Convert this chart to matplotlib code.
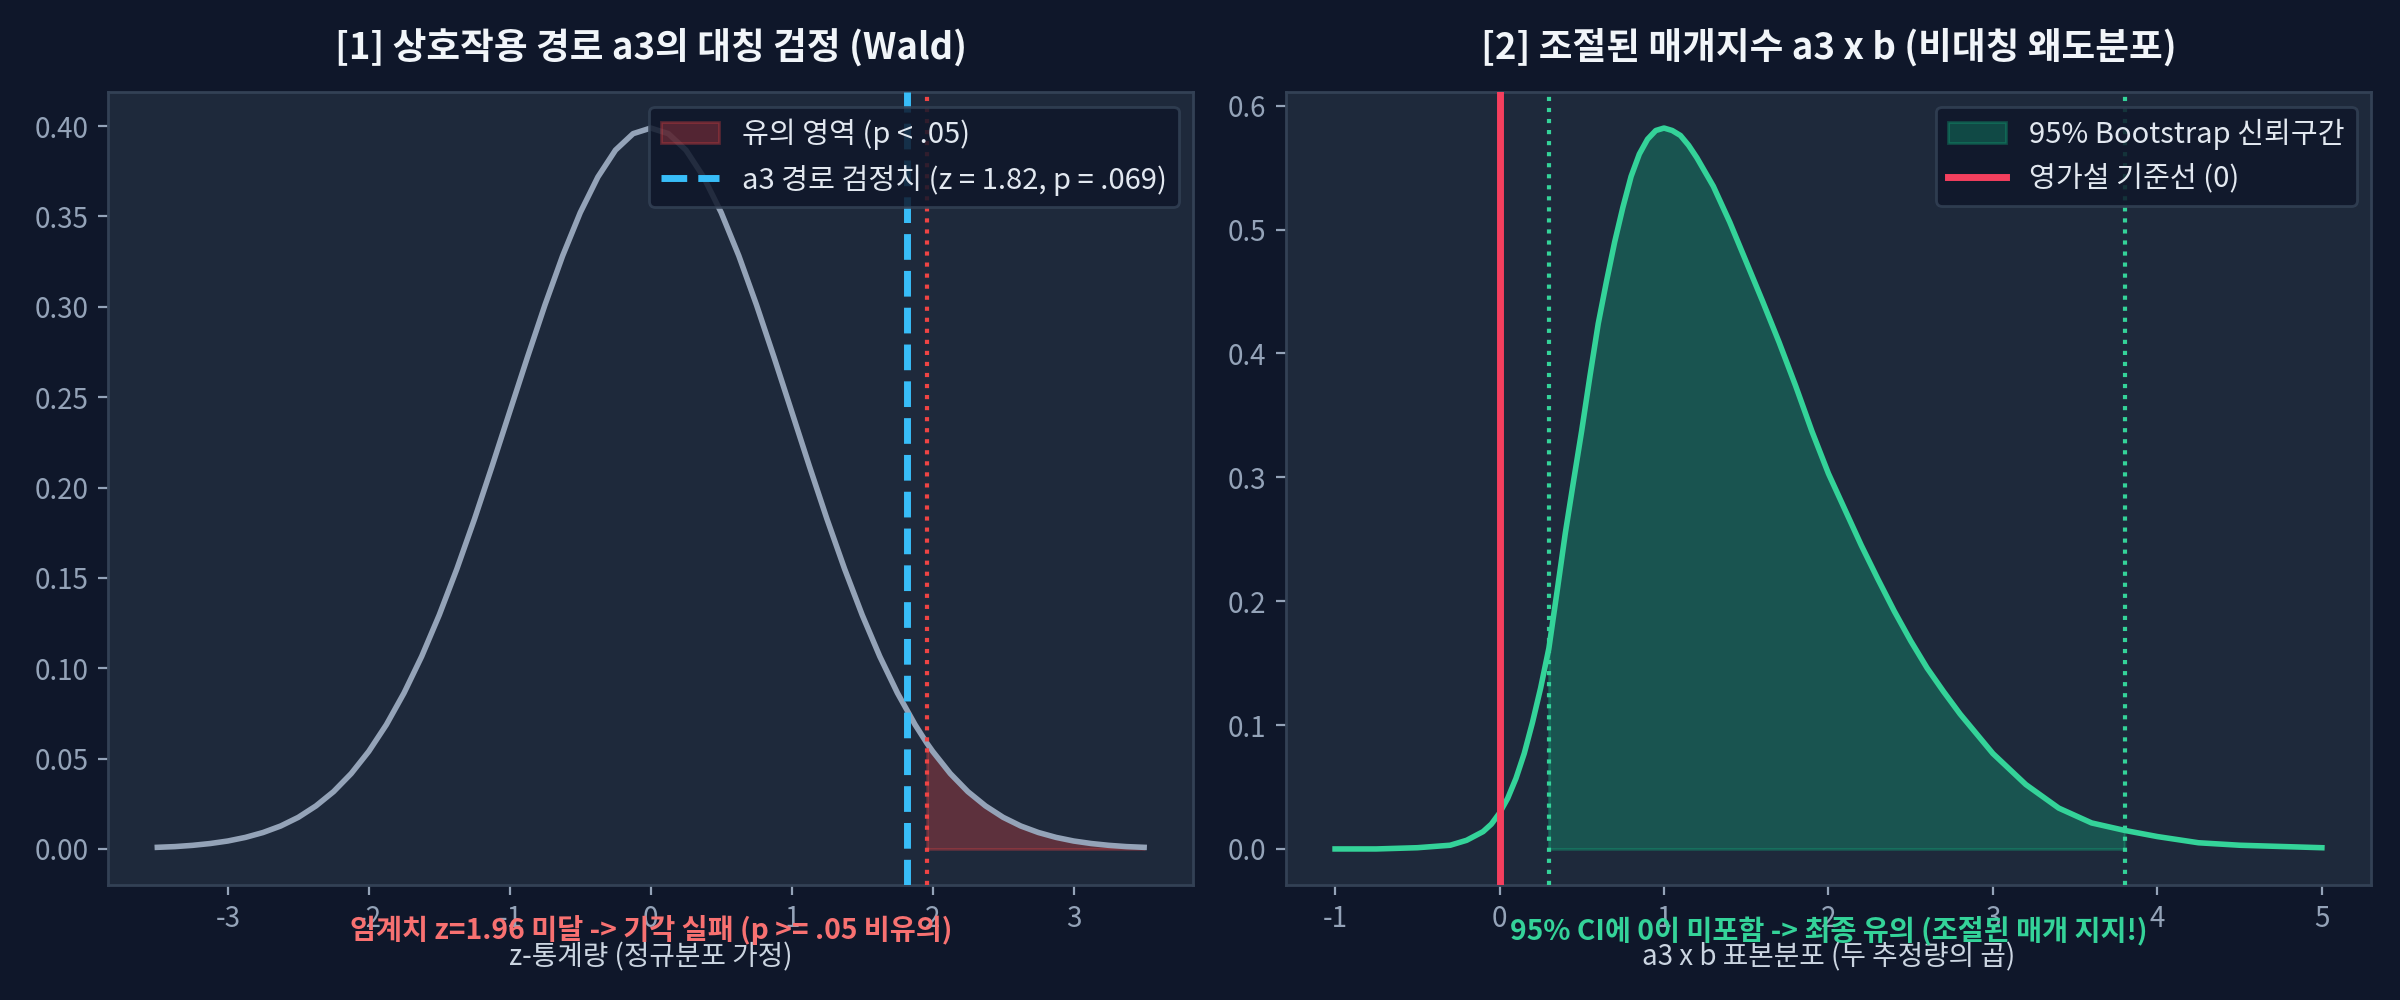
import matplotlib
matplotlib.use("Agg")
import matplotlib.pyplot as plt
import numpy as np

plt.rcParams['font.family'] = ['Noto Sans CJK KR', 'DejaVu Sans']
plt.rcParams['font.weight'] = 'light'
plt.rcParams['axes.unicode_minus'] = False

# ---------------- data ----------------
# Panel 1: z-statistic sampling distribution
z_x = [-3.5, -3.375, -3.25, -3.125, -3.0, -2.875, -2.75, -2.625, -2.5, -2.375,
       -2.25, -2.125, -2.0, -1.875, -1.75, -1.625, -1.5, -1.375, -1.25, -1.125,
       -1.0, -0.875, -0.75, -0.625, -0.5, -0.375, -0.25, -0.125, 0.0, 0.125,
       0.25, 0.375, 0.5, 0.625, 0.75, 0.875, 1.0, 1.125, 1.25, 1.375,
       1.5, 1.625, 1.75, 1.875, 1.96, 2.0, 2.125, 2.25, 2.375, 2.5,
       2.625, 2.75, 2.875, 3.0, 3.125, 3.25, 3.375, 3.5]
z_y = [0.0009, 0.0013, 0.0020, 0.0030, 0.0044, 0.0064, 0.0091, 0.0127, 0.0175, 0.0238,
       0.0317, 0.0417, 0.0540, 0.0688, 0.0863, 0.1065, 0.1295, 0.1550, 0.1826, 0.2119,
       0.2420, 0.2720, 0.3011, 0.3282, 0.3521, 0.3718, 0.3867, 0.3958, 0.3989, 0.3958,
       0.3867, 0.3718, 0.3521, 0.3282, 0.3011, 0.2720, 0.2420, 0.2119, 0.1826, 0.1550,
       0.1295, 0.1065, 0.0863, 0.0688, 0.0584, 0.0540, 0.0417, 0.0317, 0.0238, 0.0175,
       0.0127, 0.0091, 0.0064, 0.0044, 0.0030, 0.0020, 0.0013, 0.0009]
z_crit = 1.96
z_obs = 1.82

# Panel 2: a3 x b product distribution
ab_x = [-1.0, -0.75, -0.5, -0.4, -0.3, -0.2, -0.1, -0.05, 0.0, 0.05,
        0.1, 0.15, 0.2, 0.25, 0.3, 0.35, 0.4, 0.45, 0.5, 0.55,
        0.6, 0.65, 0.7, 0.75, 0.8, 0.85, 0.9, 0.95, 1.0, 1.05,
        1.1, 1.15, 1.2, 1.3, 1.4, 1.5, 1.6, 1.7, 1.8, 1.9,
        2.0, 2.1, 2.2, 2.3, 2.4, 2.5, 2.6, 2.7, 2.8, 2.9,
        3.0, 3.2, 3.4, 3.6, 3.8, 4.0, 4.25, 4.5, 4.75, 5.0]
ab_y = [0.000, 0.000, 0.001, 0.002, 0.003, 0.007, 0.014, 0.020, 0.029, 0.041,
        0.057, 0.077, 0.102, 0.130, 0.162, 0.208, 0.255, 0.297, 0.338, 0.382,
        0.424, 0.458, 0.490, 0.518, 0.543, 0.561, 0.573, 0.580, 0.582, 0.580,
        0.576, 0.568, 0.558, 0.535, 0.506, 0.474, 0.442, 0.409, 0.374, 0.337,
        0.303, 0.274, 0.245, 0.218, 0.192, 0.168, 0.146, 0.127, 0.109, 0.093,
        0.077, 0.052, 0.033, 0.021, 0.015, 0.010, 0.005, 0.003, 0.002, 0.001]
ci_low, ci_high = 0.30, 3.80
null_value = 0.0

titles = ["[1] 상호작용 경로 a3의 대칭 검정 (Wald)",
          "[2] 조절된 매개지수 a3 x b (비대칭 왜도분포)"]
xlabels = ["z-통계량 (정규분포 가정)", "a3 x b 표본분포 (두 추정량의 곱)"]
notes = ["임계치 z=1.96 미달 -> 기각 실패 (p >= .05 비유의)",
         "95% CI에 0이 미포함 -> 최종 유의 (조절된 매개 지지!)"]
leg1 = ["유의 영역 (p < .05)", "a3 경로 검정치 (z = 1.82, p = .069)"]
leg2 = ["95% Bootstrap 신뢰구간", "영가설 기준선 (0)"]

# ---------------- style ----------------
FIG_BG = '#0f172a'
AX_BG = '#1e293b'
SPINE = '#334155'
TICK = '#94a3b8'
TEXT = '#f1f5f9'
LABEL = '#cbd5e1'

fig, axes = plt.subplots(1, 2, figsize=(12, 5), dpi=200)
fig.patch.set_facecolor(FIG_BG)
fig.subplots_adjust(left=0.045, right=0.988, bottom=0.115, top=0.908, wspace=0.085)

for ax in axes:
    ax.set_facecolor(AX_BG)
    for s in ax.spines.values():
        s.set_color(SPINE)
        s.set_linewidth(1.0)
    ax.tick_params(colors=TICK, labelsize=10, length=3.5, width=0.8)

# ---- panel 1 ----
ax = axes[0]
zx = np.array(z_x)
zy = np.array(z_y)
ax.plot(zx, zy, color='#94a3b8', lw=2, zorder=3)
fill1 = ax.fill_between(zx, 0, zy, where=zx >= z_crit, color='#ef4444', alpha=0.3,
                        zorder=2, label=leg1[0])
ax.axvline(z_crit, color='#ef4444', lw=1.5, ls=':', zorder=4)
line1 = ax.axvline(z_obs, color='#38bdf8', lw=2.5, ls='--', zorder=4, label=leg1[1])
ax.set_title(titles[0], color=TEXT, fontsize=13.2, fontweight='bold', pad=12)
ax.set_xlabel(xlabels[0], color=LABEL, fontsize=10)
ax.text(0.5, -0.057, notes[0], transform=ax.transAxes, ha='center', va='center',
        color='#f87171', fontsize=10.2, fontweight='bold')
ax.legend(handles=[fill1, line1], labels=leg1, loc='upper right', fontsize=10.5,
          facecolor=FIG_BG, edgecolor=SPINE, framealpha=0.85, labelcolor='#e2e8f0')

# ---- panel 2 ----
ax = axes[1]
ax_ = np.array(ab_x)
ay = np.array(ab_y)
ax.plot(ax_, ay, color='#34d399', lw=2, zorder=3)
fill2 = ax.fill_between(ax_, 0, ay, where=(ax_ >= ci_low) & (ax_ <= ci_high),
                        color='#10b981', alpha=0.3, zorder=2, label=leg2[0])
ax.axvline(ci_low, color='#34d399', lw=1.5, ls=':', zorder=4)
ax.axvline(ci_high, color='#34d399', lw=1.5, ls=':', zorder=4)
line2 = ax.axvline(null_value, color='#f43f5e', lw=2.5, zorder=4, label=leg2[1])
ax.set_title(titles[1], color=TEXT, fontsize=13.2, fontweight='bold', pad=12)
ax.set_xlabel(xlabels[1], color=LABEL, fontsize=10)
ax.text(0.5, -0.057, notes[1], transform=ax.transAxes, ha='center', va='center',
        color='#34d399', fontsize=10.2, fontweight='bold')
ax.legend(handles=[fill2, line2], labels=leg2, loc='upper right', fontsize=10.5,
          facecolor=FIG_BG, edgecolor=SPINE, framealpha=0.85, labelcolor='#e2e8f0')

for ax in axes:
    ax.xaxis.label.set_va('center')
    ax.xaxis.set_label_coords(0.5, -0.091)

fig.savefig('out.png', dpi=200, facecolor=FIG_BG)
